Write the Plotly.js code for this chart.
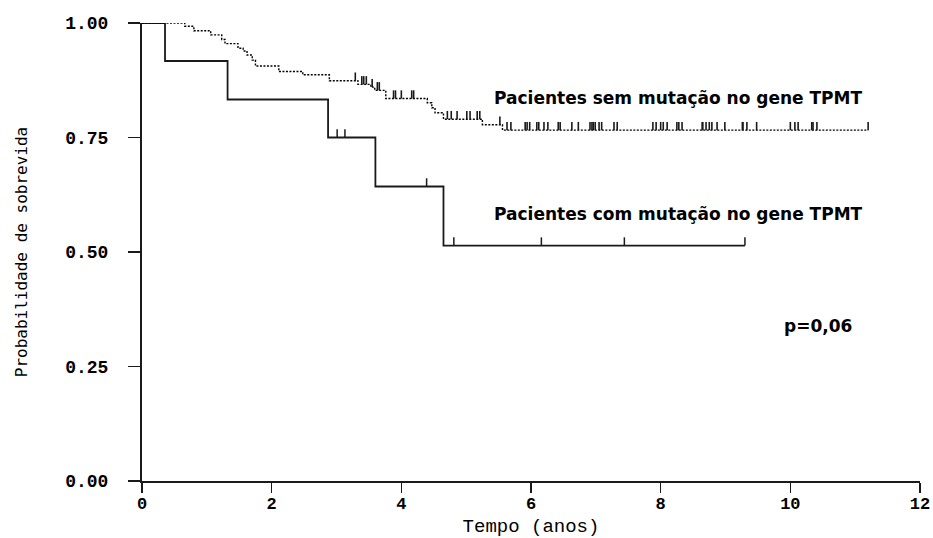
<!DOCTYPE html>
<html>
<head>
<meta charset="utf-8">
<script src="https://cdn.plot.ly/plotly-3.0.1.min.js"></script>
<style>
  html, body { margin: 0; padding: 0; background: #fff; }
  #chart { width: 933px; height: 538px; }
</style>
</head>
<body>
<div id="chart"></div>
<script>
// Kaplan-Meier survival by TPMT genotype (time in years)

// Pacientes sem mutação no gene TPMT
const semEventTimes = [0.66, 0.80, 1.06, 1.23, 1.28, 1.48, 1.56, 1.62, 1.70, 1.75, 2.11, 2.48,
                       2.89, 3.33, 3.53, 3.59, 3.76, 4.40, 4.47, 4.52, 4.65, 5.25, 5.56];
const semSurvival   = [0.993, 0.983, 0.974, 0.964, 0.955, 0.945, 0.939, 0.930, 0.919, 0.906, 0.894, 0.887,
                       0.874, 0.866, 0.860, 0.853, 0.835, 0.826, 0.815, 0.804, 0.790, 0.778, 0.766];
const semCensorTimes = [3.29, 3.39, 3.42, 3.46, 3.55, 3.63, 3.66, 3.88, 3.91, 4.00, 4.16, 4.19,
                        4.71, 4.77, 4.86, 5.01, 5.06, 5.17, 5.21, 5.52, 5.63, 5.69, 5.91, 5.94,
                        5.98, 6.09, 6.12, 6.20, 6.26, 6.42, 6.45, 6.63, 6.73, 6.91, 6.94, 6.96,
                        6.99, 7.05, 7.09, 7.28, 7.33, 7.88, 7.93, 8.00, 8.04, 8.10, 8.25, 8.28,
                        8.33, 8.64, 8.65, 8.70, 8.75, 8.79, 8.87, 8.99, 9.26, 9.27, 9.33, 9.48,
                        10.00, 10.07, 10.12, 10.33, 10.35, 10.41, 11.20];

// Pacientes com mutação no gene TPMT
const comEventTimes  = [0.355, 1.32, 2.87, 3.60, 4.65];
const comSurvival    = [0.917, 0.833, 0.750, 0.643, 0.514];
const comCensorTimes = [3.01, 3.13, 4.39, 4.81, 6.16, 7.44, 9.30];

// Axis ticks and labels
const xTicks = [0, 2, 4, 6, 8, 10, 12];
const yTicks = [0, 0.25, 0.5, 0.75, 1];
const labelSem = 'Pacientes sem mutação no gene TPMT';
const labelCom = 'Pacientes com mutação no gene TPMT';
const pLabel = 'p=0,06';

// Survival value in effect at time t (step function)
function survivalAt(t, times, surv) {
  let s = 1;
  for (let i = 0; i < times.length; i++) {
    if (times[i] <= t) s = surv[i];
  }
  return s;
}

function stepCurve(times, surv, censors) {
  const end = Math.max(...censors, ...times);
  return {
    x: [0].concat(times, [end]),
    y: [1].concat(surv, [surv[surv.length - 1]])
  };
}

const ink = '#1a1a1a';
const semCurve = stepCurve(semEventTimes, semSurvival, semCensorTimes);
const comCurve = stepCurve(comEventTimes, comSurvival, comCensorTimes);

// Censor ticks drawn as one-sided vertical error bars
function censorTrace(times, evTimes, surv, thick) {
  return {
    x: times,
    y: times.map(t => survivalAt(t, evTimes, surv)),
    type: 'scatter',
    mode: 'markers',
    marker: { size: 2, color: 'rgba(0,0,0,0)' },
    error_y: { type: 'constant', symmetric: false, value: 0.018, valueminus: 0,
               width: 0, thickness: thick, color: ink },
    hoverinfo: 'skip',
    showlegend: false
  };
}

const traces = [
  {
    x: comCurve.x, y: comCurve.y, type: 'scatter', mode: 'lines',
    line: { shape: 'hv', color: ink, width: 1.8 },
    hoverinfo: 'skip', showlegend: false
  },
  censorTrace(comCensorTimes, comEventTimes, comSurvival, 1.5),
  {
    x: semCurve.x, y: semCurve.y, type: 'scatter', mode: 'lines',
    line: { shape: 'hv', color: '#000', width: 1.4, dash: '2px,1.5px' },
    hoverinfo: 'skip', showlegend: false
  },
  censorTrace(semCensorTimes, semEventTimes, semSurvival, 1.6)
];

const annFont = { family: 'DejaVu Sans', size: 17, color: '#000', weight: 'bold' };

const layout = {
  width: 933,
  height: 538,
  margin: { l: 142, r: 13, t: 23, b: 57 },
  paper_bgcolor: '#fff',
  plot_bgcolor: '#fff',
  showlegend: false,
  xaxis: {
    range: [0, 12],
    tickvals: xTicks,
    ticktext: xTicks.map(String),
    ticks: 'outside', ticklen: 10, tickwidth: 1.5, tickcolor: ink,
    ticklabelstandoff: -4,
    showline: true, linecolor: ink, linewidth: 2,
    showgrid: false, zeroline: false,
    tickfont: { family: 'Liberation Mono', size: 17, color: '#000', weight: 'bold' },
    title: { text: 'Tempo (anos)', standoff: 9,
             font: { family: 'Liberation Mono', size: 19, color: '#000' } }
  },
  yaxis: {
    range: [0, 1],
    tickvals: yTicks,
    tickformat: '.2f',
    ticks: 'outside', ticklen: 12, tickwidth: 1.5, tickcolor: ink,
    ticklabelstandoff: 16,
    showline: true, linecolor: ink, linewidth: 2,
    showgrid: false, zeroline: false,
    tickfont: { family: 'Liberation Mono', size: 18, color: '#000', weight: 'bold' },
    title: { text: 'Probabilidade de sobrevida', standoff: 34,
             font: { family: 'DejaVu Sans Mono', size: 16, color: '#000' } }
  },
  annotations: [
    { x: 5.40, y: 0.836, xref: 'x', yref: 'y', text: labelSem, showarrow: false,
      xanchor: 'left', yanchor: 'middle', font: annFont },
    { x: 5.40, y: 0.583, xref: 'x', yref: 'y', text: labelCom, showarrow: false,
      xanchor: 'left', yanchor: 'middle', font: annFont },
    { x: 9.87, y: 0.338, xref: 'x', yref: 'y', text: pLabel, showarrow: false,
      xanchor: 'left', yanchor: 'middle', font: annFont }
  ]
};

Plotly.newPlot('chart', traces, layout, { staticPlot: true, displayModeBar: false });
</script>
</body>
</html>
